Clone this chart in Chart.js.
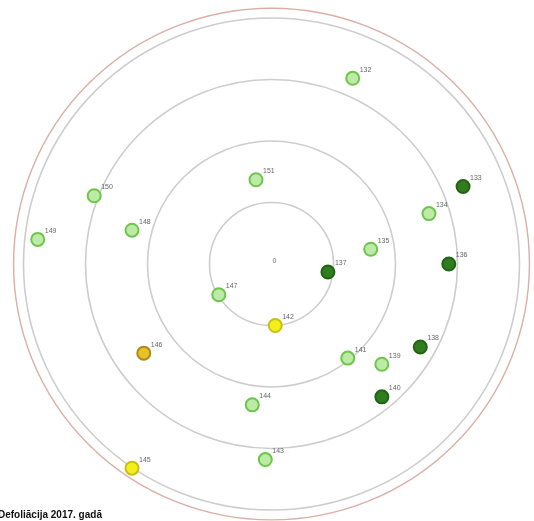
<!DOCTYPE html>
<html>
<head>
<meta charset="utf-8">
<script src="https://cdn.jsdelivr.net/npm/chart.js@4.4.0/dist/chart.umd.min.js"></script>
<style>
  html, body { margin: 0; padding: 0; background: #fff; }
  #wrap { position: relative; width: 534px; height: 521px; }
</style>
</head>
<body>
<div id="wrap"><canvas id="plotChart"></canvas></div>
<script>
// Tree map of the plot: positions in ring units (1 ring = 1 unit), centre = 0,0
const treeIds   = ['132', '151', '150', '149', '148', '133', '134', '135', '137', '136',
                   '147', '142', '146', '141', '139', '138', '140', '144', '143', '145'];
const treeX     = [ 1.31, -0.25, -2.86, -3.77, -2.25,  3.09,  2.54,  1.60,  0.91,  2.86,
                   -0.85,  0.06, -2.06,  1.23,  1.78,  2.40,  1.78, -0.31, -0.10, -2.25];
const treeY     = [ 3.02,  1.37,  1.11,  0.40,  0.55,  1.26,  0.82,  0.24, -0.13,  0.00,
                   -0.50, -1.00, -1.45, -1.53, -1.63, -1.35, -2.16, -2.29, -3.18, -3.32];
// defoliation class per tree
const treeClass = ['light', 'light', 'light', 'light', 'light', 'dark', 'light', 'light', 'dark', 'dark',
                   'light', 'yellow', 'orange', 'light', 'light', 'dark', 'dark', 'light', 'light', 'yellow'];

const classNames = ['dark', 'light', 'yellow', 'orange'];
const ringRadii  = [1, 2, 3, 4];
const plotRadius = 4.16;
const centreLabel = '0';
const caption = 'Defoliācija 2017. gadā';

(function () {
  'use strict';

  const styles = {
    dark:   { fill: '#2f7d1f', border: '#226314' },
    light:  { fill: '#bdeaa6', border: '#6cc64a' },
    yellow: { fill: '#f2f01a', border: '#c9bf10' },
    orange: { fill: '#e6c127', border: '#b08a12' }
  };

  const datasets = classNames.map(function (cls) {
    const pts = [];
    treeIds.forEach(function (id, i) {
      if (treeClass[i] === cls) pts.push({ x: treeX[i], y: treeY[i], id: id });
    });
    return {
      label: cls,
      data: pts,
      backgroundColor: styles[cls].fill,
      borderColor: styles[cls].border,
      borderWidth: 2,
      pointRadius: 6.5,
      pointHoverRadius: 6.5,
      clip: false
    };
  });

  // concentric rings drawn through the scales
  const ringsPlugin = {
    id: 'rings',
    beforeDatasetsDraw: function (chart) {
      const xs = chart.scales.x, ys = chart.scales.y, ctx = chart.ctx;
      const cx = xs.getPixelForValue(0), cy = ys.getPixelForValue(0);
      ctx.save();
      function ring(r, color, w) {
        const rx = Math.abs(xs.getPixelForValue(r) - cx);
        const ry = Math.abs(ys.getPixelForValue(r) - cy);
        ctx.beginPath();
        ctx.ellipse(cx, cy, rx, ry, 0, 0, Math.PI * 2);
        ctx.strokeStyle = color;
        ctx.lineWidth = w;
        ctx.stroke();
      }
      ringRadii.forEach(function (r) { ring(r, '#cdcdcd', 1.6); });
      ring(plotRadius, '#dcaea6', 1.4);
      // centre mark
      ctx.fillStyle = '#777';
      ctx.font = '7px "Liberation Sans", Arial, sans-serif';
      ctx.textAlign = 'left';
      ctx.textBaseline = 'middle';
      ctx.fillText(centreLabel, cx + 1, cy - 3);
      ctx.restore();
    },
    afterDatasetsDraw: function (chart) {
      const ctx = chart.ctx;
      ctx.save();
      ctx.fillStyle = '#666';
      ctx.font = '7px "Liberation Sans", Arial, sans-serif';
      ctx.textAlign = 'left';
      ctx.textBaseline = 'bottom';
      chart.data.datasets.forEach(function (ds, di) {
        const meta = chart.getDatasetMeta(di);
        meta.data.forEach(function (el, i) {
          ctx.fillText(ds.data[i].id, el.x + 7, el.y - 5);
        });
      });
      ctx.fillStyle = '#111';
      ctx.font = 'bold 10px "Liberation Sans", Arial, sans-serif';
      ctx.textBaseline = 'alphabetic';
      ctx.fillText(caption, -2, 518);
      ctx.restore();
    }
  };

  new Chart(document.getElementById('plotChart'), {
    type: 'scatter',
    data: { datasets: datasets },
    options: {
      responsive: true,
      maintainAspectRatio: false,
      animation: false,
      layout: { padding: 0, autoPadding: false },
      scales: {
        x: { type: 'linear', display: false, min: -4.379, max: 4.234 },
        y: { type: 'linear', display: false, min: -4.179, max: 4.293 }
      },
      plugins: {
        legend: { display: false },
        tooltip: { enabled: false }
      }
    },
    plugins: [ringsPlugin]
  });
})();
</script>
</body>
</html>
